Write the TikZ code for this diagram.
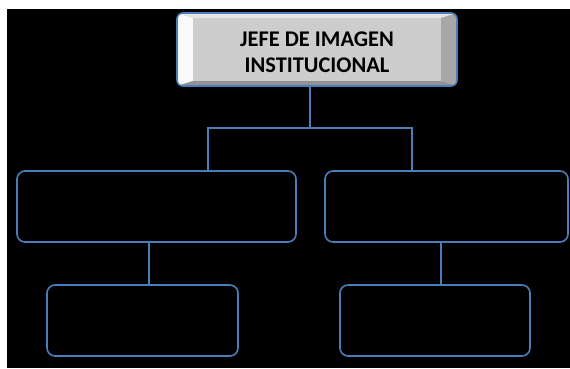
\documentclass[tikz,border=0pt]{standalone}
\usepackage{fontspec}
\setmainfont{Carlito}
\definecolor{lineblue}{HTML}{4A7EBB}
\definecolor{bevgray}{HTML}{C4C4C4}
\begin{document}
\begin{tikzpicture}[x=1bp,y=-1bp,
  box/.style={draw=lineblue,line width=1.6bp,rounded corners=8bp,inner sep=0pt},
  conn/.style={draw=lineblue,line width=1.6bp}]
\useasboundingbox (0,0) rectangle (570,368);
\fill[white] (0,0) rectangle (570,368);
\fill[black] (7,9) rectangle (570,368);
% top beveled box
\fill[bevgray,rounded corners=6bp] (177,13) rectangle (457,86);
\begin{scope}
\clip[rounded corners=6bp] (177,13) rectangle (457,86);
\fill[white!92!bevgray] (177,13) -- (193,18) -- (193,81) -- (177,86) -- cycle;
\fill[white!55!bevgray] (177,13) -- (457,13) -- (441,18) -- (193,18) -- cycle;
\fill[black!15!bevgray] (457,13) -- (441,18) -- (441,81) -- (457,86) -- cycle;
\fill[black!25!bevgray] (177,86) -- (193,81) -- (441,81) -- (457,86) -- cycle;
\fill[white!15!bevgray] (193,18) rectangle (441,81);
\end{scope}
\node[box,minimum width=280bp,minimum height=73bp,rounded corners=6bp] (top) at (317,49.5) {};
\node[font=\bfseries\fontsize{22.5}{26}\selectfont,align=center,inner sep=0pt] (title) at (317,52)
  {JEFE DE IMAGEN\\INSTITUCIONAL};
% middle boxes
\node[box,minimum width=279bp,minimum height=71bp] (ml) at (156.5,206.5) {};
\node[box,minimum width=243bp,minimum height=71bp] (mr) at (446.5,206.5) {};
% bottom boxes
\node[box,minimum width=191bp,minimum height=71bp] (bl) at (142.5,320.5) {};
\node[box,minimum width=190bp,minimum height=71bp] (br) at (435,320.5) {};
% connectors
\coordinate (j) at (310,128);
\draw[conn] (top.south -| j) -- (j);
\draw[conn] (j) -| (ml.north -| 208,0);
\draw[conn] (j) -| (mr.north -| 412,0);
\draw[conn] (ml.south -| 149,0) -- (bl.north -| 149,0);
\draw[conn] (mr.south -| 441,0) -- (br.north -| 441,0);
\end{tikzpicture}
\end{document}
